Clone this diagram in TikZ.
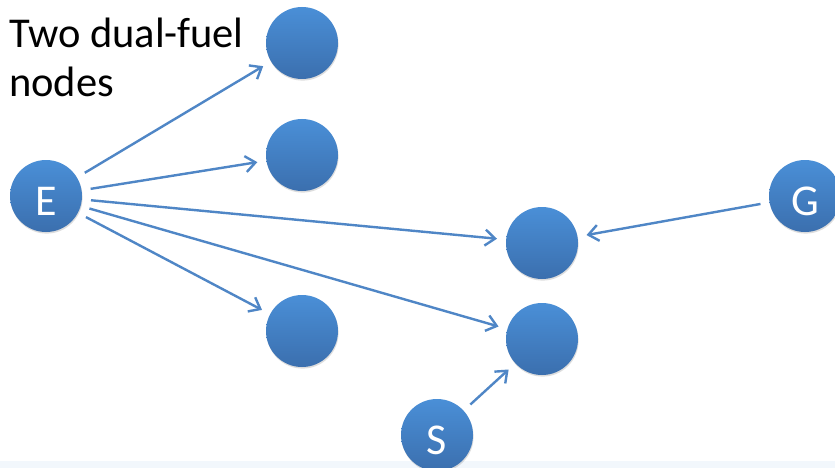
\documentclass[tikz,border=0pt]{standalone}
\usepackage{fontspec}
\setmainfont{Carlito}
\usetikzlibrary{arrows.meta,shadows}
\definecolor{nodetop}{HTML}{4A8FD7}
\definecolor{nodebot}{HTML}{3B6FAE}
\definecolor{linkblue}{HTML}{4F86C6}
\definecolor{stripbg}{HTML}{F2F7FC}
% letter set a little below the centre of its disc
\newcommand{\busletter}[1]{\raisebox{0pt}[38pt][0pt]{#1}}
\tikzset{
  bus/.style={circle, inner sep=0pt, minimum size=72pt,
    top color=nodetop, bottom color=nodebot, draw=none,
    drop shadow={shadow xshift=0.6pt, shadow yshift=-1.6pt, opacity=0.22, fill=black!60},
    text=white, font=\fontsize{44}{50}\selectfont},
  link/.style={draw=linkblue, line width=2.4pt,
    -{Straight Barb[length=10pt, width=16pt, line width=2.4pt]},
    shorten <=9pt, shorten >=9pt},
  caption/.style={font=\fontsize{42.5}{49}\selectfont, align=left, inner sep=0pt}
}
\begin{document}
\begin{tikzpicture}[x=1pt, y=-1pt]
  \useasboundingbox (0,0) rectangle (835,468);
  \fill[white] (0,0) rectangle (835,468);
  \fill[stripbg] (0,461) rectangle (835,468);

  % caption (base anchor sits on the last line)
  \node[caption, anchor=base west] (cap) at (9,97) {Two dual-fuel\\nodes};

  % buses
  \node[bus] (E)  at (46,196)  {\busletter{E}};
  \node[bus] (G)  at (805,196) {\busletter{G}};
  \node[bus] (S)  at (437,435) {\busletter{S}};
  \node[bus] (d1) at (302,43)  {};
  \node[bus] (d2) at (302,155) {};
  \node[bus] (m1) at (542,243) {};
  \node[bus] (d3) at (302,331) {};
  \node[bus] (m2) at (542,339) {};

  % connections
  \draw[link] (E) -- (d1);
  \draw[link] (E) -- (d2);
  \draw[link] (E) -- (m1);
  \draw[link] (E) -- (m2);
  \draw[link] (E) -- (d3);
  \draw[link] (G) -- (m1);
  \draw[link] (S) -- (m2);
\end{tikzpicture}
\end{document}
